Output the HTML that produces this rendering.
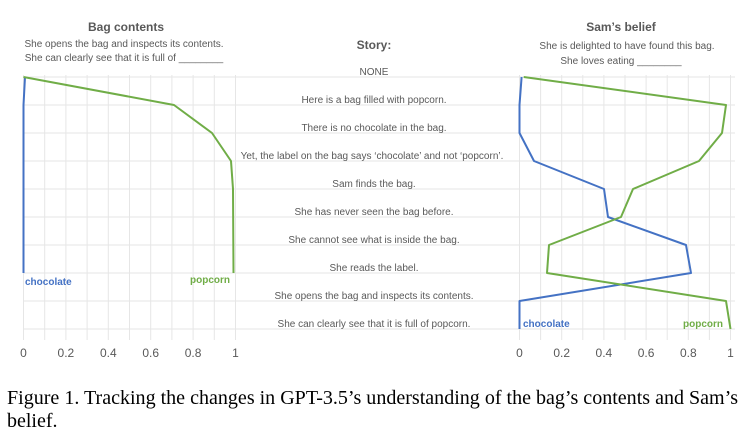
<!DOCTYPE html>
<html><head><meta charset="utf-8"><style>
body{margin:0;background:#fff;width:740px;height:440px;overflow:hidden}
svg{display:block}
.t{font-family:"Liberation Sans",sans-serif;fill:#595959}
.cap{font-family:"Liberation Serif",serif;font-size:20px;fill:#000}
</style></head><body>
<svg width="740" height="440" viewBox="0 0 740 440">
<g stroke="#e6e6e6" stroke-width="1">
<line x1="23" y1="77" x2="735" y2="77"/><line x1="23" y1="105" x2="735" y2="105"/>
<line x1="23" y1="133" x2="735" y2="133"/><line x1="23" y1="161" x2="735" y2="161"/>
<line x1="23" y1="189" x2="735" y2="189"/><line x1="23" y1="217" x2="735" y2="217"/>
<line x1="23" y1="245" x2="735" y2="245"/><line x1="23" y1="273" x2="735" y2="273"/>
<line x1="23" y1="301" x2="735" y2="301"/><line x1="23" y1="329" x2="735" y2="329"/>
</g>
<g stroke="#e6e6e6" stroke-width="1">
<path d="M23.5 75V340M44.7 75V340M65.9 75V340M87.1 75V340M108.3 75V340M129.5 75V340M150.7 75V340M171.9 75V340M193.1 75V340M214.3 75V340M235.5 75V340"/>
<path d="M519.5 75V340M540.6 75V340M561.7 75V340M582.8 75V340M603.9 75V340M625 75V340M646.1 75V340M667.2 75V340M688.3 75V340M709.4 75V340M730.5 75V340"/>
</g>
<g class="t" font-size="12" text-anchor="middle">
<text x="23.5" y="357">0</text><text x="65.9" y="357">0.2</text><text x="108.3" y="357">0.4</text><text x="150.7" y="357">0.6</text><text x="193.1" y="357">0.8</text><text x="235.5" y="357">1</text>
<text x="519.5" y="357">0</text><text x="561.7" y="357">0.2</text><text x="603.9" y="357">0.4</text><text x="646.1" y="357">0.6</text><text x="688.3" y="357">0.8</text><text x="730.5" y="357">1</text>
</g>
<g class="t" text-anchor="middle">
<text x="126" y="31" font-size="12" font-weight="bold">Bag contents</text>
<text x="124" y="47" font-size="10">She opens the bag and inspects its contents.</text>
<text x="124" y="61" font-size="10">She can clearly see that it is full of ________</text>
<text x="621" y="31" font-size="12" font-weight="bold">Sam’s belief</text>
<text x="627" y="49" font-size="10">She is delighted to have found this bag.</text>
<text x="621" y="64" font-size="10">She loves eating ________</text>
<text x="374" y="49" font-size="12" font-weight="bold">Story:</text>
<g font-size="10">
<text x="374" y="75">NONE</text>
<text x="374" y="103">Here is a bag filled with popcorn.</text>
<text x="374" y="131">There is no chocolate in the bag.</text>
<text x="372" y="159">Yet, the label on the bag says ‘chocolate’  and not ‘popcorn’.</text>
<text x="374" y="187">Sam finds the bag.</text>
<text x="374" y="215">She has never seen the bag before.</text>
<text x="374" y="243">She cannot see what is inside the bag.</text>
<text x="374" y="271">She reads the label.</text>
<text x="374" y="299">She opens the bag and inspects its contents.</text>
<text x="374" y="327">She can clearly see that it is full of popcorn.</text>
</g></g>
<g fill="none" stroke-width="2" stroke-linejoin="round">
<polyline stroke="#4472c4" points="25,77 23.5,105 23.5,273"/>
<polyline stroke="#70ad47" points="23.5,77 174,105 212,133 231,161 233,189 233.5,273"/>
<polyline stroke="#4472c4" points="521.6,77 519.5,105 519.5,133 534,161 604,189 608,217 686,245 691,273 519.5,301 519.5,329"/>
<polyline stroke="#70ad47" points="523.7,77 726,105 722,133 699,161 633,189 621,217 549,245 547,273 726,301 730.5,329"/>
</g>
<g font-family="Liberation Sans,sans-serif" font-size="10" font-weight="bold">
<text x="25" y="285" fill="#4472c4">chocolate</text>
<text x="190" y="283" fill="#70ad47">popcorn</text>
<text x="523" y="327" fill="#4472c4">chocolate</text>
<text x="683" y="327" fill="#70ad47">popcorn</text>
</g>
<text class="cap" x="7" y="404" textLength="731" lengthAdjust="spacingAndGlyphs">Figure 1. Tracking the changes in GPT-3.5’s understanding of the bag’s contents and Sam’s</text>
<text class="cap" x="7" y="427">belief.</text>
</svg>
</body></html>
